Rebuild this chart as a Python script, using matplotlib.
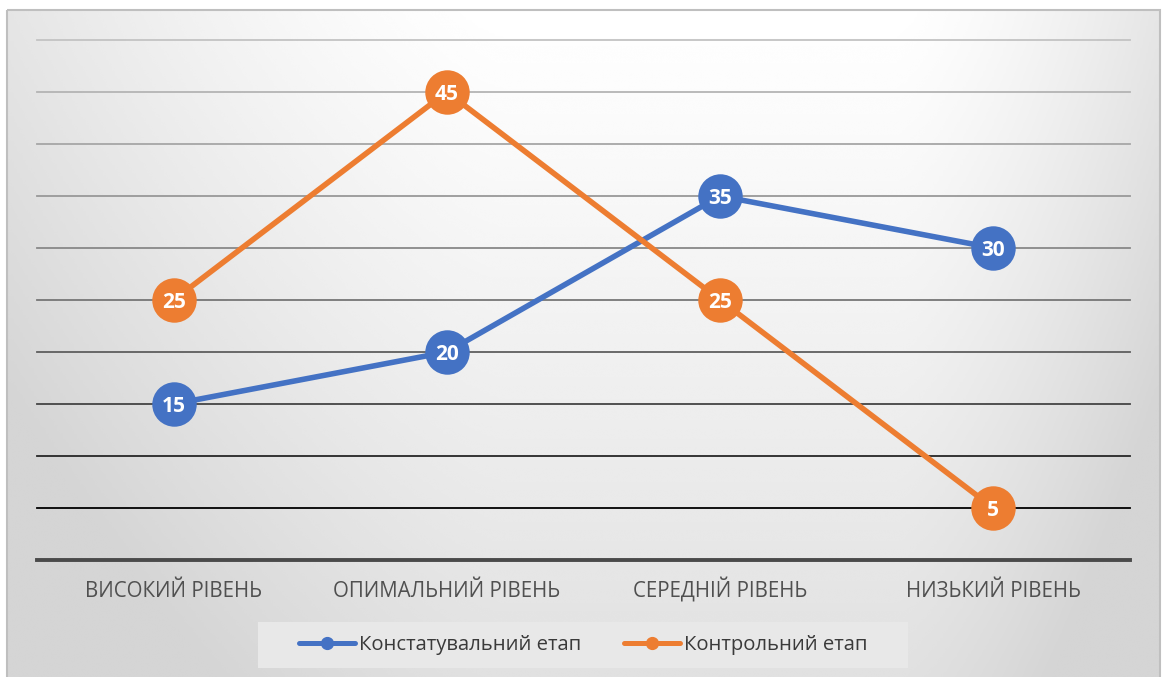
import numpy as np
import matplotlib.pyplot as plt
from matplotlib.lines import Line2D
from matplotlib.patches import Rectangle

categories = ["ВИСОКИЙ РІВЕНЬ", "ОПИМАЛЬНИЙ РІВЕНЬ", "СЕРЕДНІЙ РІВЕНЬ", "НИЗЬКИЙ РІВЕНЬ"]
series_names = ["Констатувальний етап", "Контрольний етап"]
stage_1 = [15, 20, 35, 30]
stage_2 = [25, 45, 25, 5]
colors = ["#4472C4", "#ED7D31"]

W, H = 1166, 677
fig = plt.figure(figsize=(W / 100, H / 100), dpi=100, facecolor="white")
plt.rcParams["font.family"] = ["Open Sans", "DejaVu Sans"]

# chart area background: light in the upper middle, greyer towards sides and bottom
bg = fig.add_axes([0, 0, 1, 1], zorder=-5)
bg.set_xlim(0, W)
bg.set_ylim(H, 0)
bg.axis("off")
x0, y0, x1, y1 = 7, 10, 1160, H + 5
gx, gy = np.meshgrid(np.linspace(x0, x1, 400), np.linspace(y0, y1, 250))
dx = np.where(gx < 700, np.clip((500 - gx) / 490, 0, None), np.clip((gx - 900) / 260, 0, None))
dy = (gy - y0) / (y1 - y0)
shade = 1.0 - 0.10 * dx ** 1.4 - 0.12 * dy ** 1.1
shade = np.clip(shade, 0.835, 1.0)
bg.imshow(shade, extent=[x0, x1, y1, y0], cmap="gray", vmin=0, vmax=1,
          interpolation="bicubic", aspect="auto")
bg.add_patch(Rectangle((x0, y0), x1 - x0, y1 - y0, fill=False,
                       edgecolor="#bfbfbf", linewidth=1.5))

# plot area
left, right, top, bottom = 37, 1130, 40, 560
ax = fig.add_axes([left / W, 1 - bottom / H, (right - left) / W, (bottom - top) / H])
ax.set_facecolor("none")
ax.set_xlim(-0.5, len(categories) - 0.5)
ax.set_ylim(0, 50)
for s in ax.spines.values():
    s.set_visible(False)
ax.set_yticks([])
ax.set_xticks([])

# horizontal gridlines get darker towards the bottom
grid_vals = np.arange(5, 55, 5)
grid_cols = ["#c3c3c3", "#b4b4b4", "#a6a6a6", "#989898", "#888888",
             "#767676", "#5e5e5e", "#444444", "#262626", "#000000"][::-1]
for v, c in zip(grid_vals, grid_cols):
    ax.axhline(v, color=c, linewidth=1.3, zorder=1, clip_on=False)
ax.axhline(0, color="#4a4a4a", linewidth=2.8, zorder=1, clip_on=False)

xs = np.arange(len(categories))
for vals, col in zip([stage_1, stage_2], colors):
    ax.plot(xs, vals, color=col, linewidth=4, marker="o", markersize=32,
            markeredgewidth=0, zorder=3, solid_capstyle="round", clip_on=False)
    for x, v in zip(xs, vals):
        ax.text(x, v, str(v), ha="center", va="center_baseline", color="white",
                fontsize=15, fontweight="bold", zorder=4)

# category names under the axis line
xtr = ax.get_xaxis_transform()
for x, name in zip(xs, categories):
    ax.text(x, -0.0712, name, transform=xtr, ha="center", va="baseline",
            fontsize=14.8, color="#505050", clip_on=False)

# legend in a light box below the plot
leg_box = fig.add_axes([258 / W, 1 - 668 / H, 650 / W, 46 / H], zorder=2)
leg_box.set_facecolor("#e8e8e8")
leg_box.set_xlim(0, 650)
leg_box.set_ylim(0, 46)
leg_box.set_xticks([])
leg_box.set_yticks([])
for s in leg_box.spines.values():
    s.set_visible(False)
handles = [Line2D([0], [0], color=c, linewidth=3.6, marker="o", markersize=8.5,
                  solid_capstyle="round") for c in colors]
leg = leg_box.legend(handles, series_names, loc="center", ncol=2, frameon=False,
                     fontsize=14.6, handlelength=2.76, handletextpad=0.2,
                     columnspacing=2.1, labelcolor="#3a3a3a")

fig.savefig("out.png", dpi=100)
